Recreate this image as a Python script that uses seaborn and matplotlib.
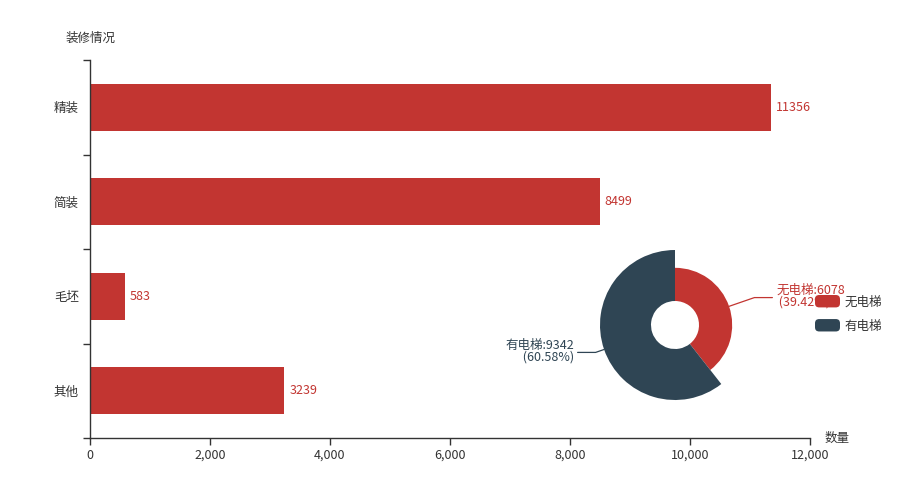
import matplotlib
matplotlib.use('Agg')
import matplotlib.pyplot as plt
from matplotlib.patches import Patch, FancyBboxPatch
from matplotlib.legend_handler import HandlerPatch
from matplotlib.ticker import FuncFormatter, FixedLocator
import numpy as np
import pandas as pd
import seaborn as sns

# bar data
categories = ['精装', '简装', '毛坯', '其他']
counts = [11356, 8499, 583, 3239]
x_ticks = [0, 2000, 4000, 6000, 8000, 10000, 12000]

# pie data
lift_labels = ['无电梯', '有电梯']
lift_counts = [6078, 9342]

RED = '#c23531'
DARK = '#2f4554'
TXT = '#333333'
pie_colors = [RED, DARK]

sns.set_theme(style='white')
plt.rcParams['font.family'] = ['Noto Sans CJK SC', 'DejaVu Sans']


class RoundHandler(HandlerPatch):
    def create_artists(self, legend, orig_handle, xdescent, ydescent,
                       width, height, fontsize, trans):
        p = FancyBboxPatch((-xdescent, -ydescent), width, height,
                           boxstyle='round,pad=0,rounding_size=3',
                           facecolor=orig_handle.get_facecolor(),
                           edgecolor='none', transform=trans)
        return [p]


fig = plt.figure(figsize=(9, 5), dpi=100)
ax = fig.add_axes([0.1, 0.124, 0.8, 0.756])

df = pd.DataFrame({'装修情况': categories, '数量': counts})
sns.barplot(data=df, x='数量', y='装修情况', orient='h', color=RED,
            width=0.5, saturation=1, linewidth=0, ax=ax)
ax.bar_label(ax.containers[0], fmt='%d', padding=3.5, color=RED, fontsize=9)

ax.set_xlim(0, 12000)
ax.set_ylim(len(categories) - 0.5, -0.5)
ax.set_xlabel('')
ax.set_ylabel('')
ax.xaxis.set_major_locator(FixedLocator(x_ticks))
ax.xaxis.set_major_formatter(FuncFormatter(lambda v, p: f'{int(v):,}'))
ax.yaxis.set_minor_locator(FixedLocator(np.arange(-0.5, len(categories), 1.0)))
ax.tick_params(axis='x', bottom=True, length=5, width=1, color=TXT,
               labelcolor=TXT, labelsize=9, pad=3)
ax.tick_params(axis='y', which='major', left=False, length=0,
               labelcolor=TXT, labelsize=9, pad=8)
ax.tick_params(axis='y', which='minor', left=True, length=5, width=1, color=TXT)
for s in ['top', 'right']:
    ax.spines[s].set_visible(False)
for s in ['left', 'bottom']:
    ax.spines[s].set_color(TXT)
    ax.spines[s].set_linewidth(1)

fig.text(66 / 900, 1 - 38 / 500, '装修情况', ha='left', va='center',
         fontsize=9, color=TXT)
fig.text(825 / 900, 1 - 438 / 500, '数量', ha='left', va='center',
         fontsize=9, color=TXT)

# rose-type donut
ax_p = fig.add_axes([600 / 900, 100 / 500, 150 / 900, 150 / 500])
inner = 0.32
vmax = max(lift_counts)
radii = [inner + (1 - inner) * v / vmax for v in lift_counts]
for i, r in enumerate(radii):
    cols = ['none'] * len(lift_counts)
    cols[i] = pie_colors[i]
    ax_p.pie(lift_counts, radius=r, colors=cols, startangle=90,
             counterclock=False, wedgeprops=dict(width=r - inner, linewidth=0))
ax_p.set_xlim(-1, 1)
ax_p.set_ylim(-1, 1)
ax_p.set_aspect('equal')
ax_p.axis('off')

total = sum(lift_counts)
cum = 0
for i, (name, v) in enumerate(zip(lift_labels, lift_counts)):
    mid = np.deg2rad(90 - 360 * (cum + v / 2) / total)
    cum += v
    c, s = np.cos(mid), np.sin(mid)
    side = 1 if c >= 0 else -1
    x0, y0 = radii[i] * c, radii[i] * s
    x1, y1 = 1.12 * c, 1.12 * s
    x2 = x1 + side * 0.24
    ax_p.plot([x0, x1, x2], [y0, y1, y1], color=pie_colors[i], lw=0.9,
              clip_on=False)
    pct = v / total * 100
    ha = 'left' if side > 0 else 'right'
    ax_p.text(x2 + side * 0.05, y1 + 0.02, f'{name}:{v}\n ({pct:.2f}%)',
              ha=ha, va='center', multialignment=ha, color=pie_colors[i],
              fontsize=9, linespacing=0.85, clip_on=False)

handles = [Patch(facecolor=c, label=l) for c, l in zip(pie_colors, lift_labels)]
leg = fig.legend(handles=handles, loc='upper left',
                 bbox_to_anchor=(815 / 900, 1 - 295 / 500),
                 frameon=False, fontsize=9, handlelength=2.0,
                 handleheight=1.15, labelspacing=0.85, handletextpad=0.35,
                 borderpad=0, borderaxespad=0,
                 handler_map={Patch: RoundHandler()})
for t in leg.get_texts():
    t.set_color(TXT)
leg.set_zorder(10)

fig.savefig('out.png', dpi=100)
